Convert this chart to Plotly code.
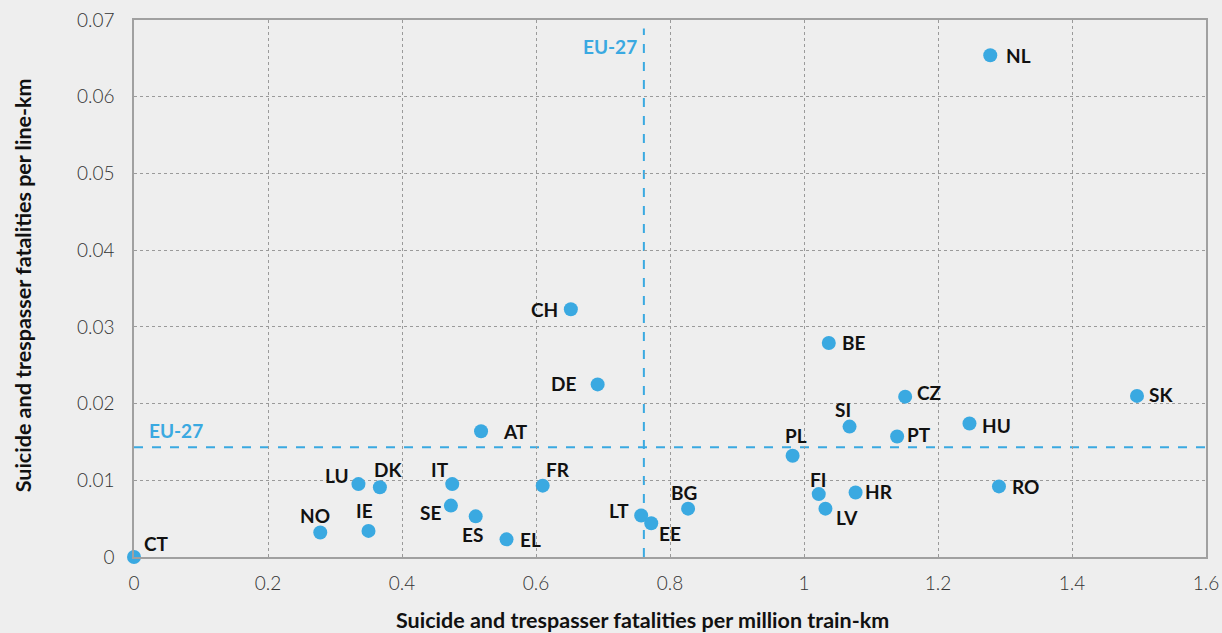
import plotly.graph_objects as go

# country codes and values
countries = ["CT", "NO", "IE", "LU", "DK", "IT", "SE", "ES", "EL", "AT",
             "FR", "CH", "DE", "LT", "EE", "BG", "PL", "FI", "LV", "BE",
             "SI", "HR", "PT", "CZ", "HU", "NL", "RO", "SK"]
per_train_km = [0.0, 0.278, 0.350, 0.335, 0.367, 0.475, 0.473, 0.510, 0.556, 0.518,
                0.610, 0.652, 0.692, 0.757, 0.772, 0.827, 0.983, 1.022, 1.032, 1.037,
                1.068, 1.077, 1.139, 1.151, 1.247, 1.278, 1.291, 1.497]
per_line_km = [0.0, 0.0032, 0.0034, 0.0095, 0.0091, 0.0095, 0.0067, 0.0053, 0.0023, 0.0164,
               0.0093, 0.0323, 0.0225, 0.0054, 0.0044, 0.0063, 0.0132, 0.0082, 0.0063, 0.0279,
               0.0170, 0.0084, 0.0157, 0.0209, 0.0174, 0.0654, 0.0092, 0.0210]

eu27_train_km = 0.761
eu27_line_km = 0.0143

# label offsets from each dot, in pixels (right / down)
label_dx = [22, -5, -4, -21, 8, -12, -20, -3, 24, 34,
            15, -26, -34, -22, 19, -4, 3, -1, 22, 25,
            -7, 23, 22, 24, 27, 28, 27, 24]
label_dy = [-14, -17, -20, -9, -18, -15, 7, 18, 0, 0,
            -16, 0, -1, -5, 10, -16, -20, -15, 9, 0,
            -17, -1, -2, -4, 2, 0, 0, -1]

blue = "#3aa9e1"
bg = "#eeeeee"
font_name = "Lato"

fig = go.Figure()

fig.add_trace(go.Scatter(
    x=per_train_km, y=per_line_km,
    mode="markers",
    text=countries,
    marker=dict(color=blue, size=14),
    cliponaxis=False,
    hoverinfo="text",
))

label_font = dict(family=font_name, size=19, color="#111111", weight="bold")
for name, x, y, dx, dy in zip(countries, per_train_km, per_line_km, label_dx, label_dy):
    fig.add_annotation(x=x, y=y, text=name, showarrow=False,
                       xanchor="center", yanchor="middle",
                       xshift=dx, yshift=-dy, font=label_font)

# EU-27 reference lines
fig.add_shape(type="line", x0=eu27_train_km, x1=eu27_train_km, y0=0, y1=0.0689,
              line=dict(color=blue, width=2, dash="dash"), layer="below")
fig.add_shape(type="line", x0=0, x1=1.6, y0=eu27_line_km, y1=eu27_line_km,
              line=dict(color=blue, width=2, dash="dash"), layer="below")

eu_font = dict(family=font_name, size=19, color=blue, weight="bold")
fig.add_annotation(x=0.02, y=eu27_line_km, text="EU-27", showarrow=False,
                   xanchor="left", yanchor="bottom", yshift=3, font=eu_font)
fig.add_annotation(x=eu27_train_km, y=0.0665, text="EU-27", showarrow=False,
                   xanchor="right", yanchor="middle", xshift=-5, font=eu_font)

tick_font = dict(family=font_name, size=19, color="#333333", weight=300)
title_font = dict(family=font_name, size=21.5, color="#111111", weight="bold")

# axis titles placed by hand
fig.add_annotation(x=0.474, y=-0.117, xref="paper", yref="paper",
                   text="Suicide and trespasser fatalities per million train-km",
                   showarrow=False, xanchor="center", yanchor="middle", font=title_font)
fig.add_annotation(x=-0.104, y=0.505, xref="paper", yref="paper", textangle=-90,
                   text="Suicide and trespasser fatalities per line-km",
                   showarrow=False, xanchor="center", yanchor="middle", font=title_font)

fig.update_xaxes(
    range=[0, 1.6], dtick=0.2, tickformat="~g",
    showgrid=True, gridcolor="#9a9a9a", griddash="dot", gridwidth=1,
    showline=True, linecolor="#a0a0a0", linewidth=1.5, mirror=True,
    zeroline=False, ticks="", tickfont=tick_font, ticklabelstandoff=8,
)
fig.update_yaxes(
    range=[0, 0.07], dtick=0.01, tickformat="~g",
    showgrid=True, gridcolor="#9a9a9a", griddash="dot", gridwidth=1,
    showline=True, linecolor="#a0a0a0", linewidth=1.5, mirror=True,
    zeroline=False, ticks="", tickfont=tick_font, ticklabelstandoff=14,
)

fig.update_layout(
    width=1222, height=633,
    margin=dict(l=134, r=16, t=20, b=76, autoexpand=False),
    paper_bgcolor=bg, plot_bgcolor=bg,
    showlegend=False,
)

fig.write_html("out.html", config={"displayModeBar": False},
               post_script="document.body.style.margin='0';")
